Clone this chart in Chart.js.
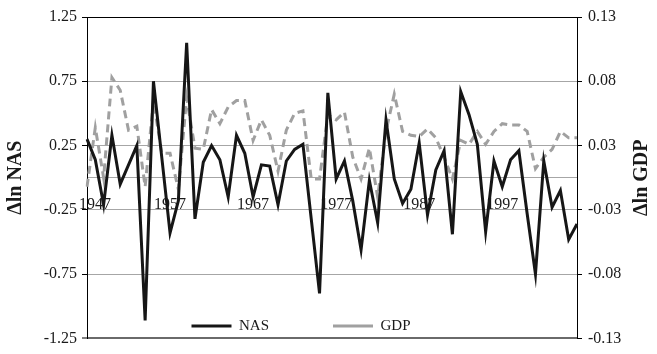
<!DOCTYPE html>
<html>
<head>
<meta charset="utf-8">
<script src="https://cdn.jsdelivr.net/npm/chart.js@4.4.1/dist/chart.umd.min.js"></script>
<style>
  html, body { margin: 0; padding: 0; background: #fff; }
  #wrap { width: 657px; height: 354px; }
</style>
</head>
<body>
<div id="wrap"><canvas id="nasChart"></canvas></div>
<script>
// years 1947 - 2006
const years = Array.from({ length: 60 }, (_, i) => String(1947 + i));
const xTickLabels = ['1947', '1957', '1967', '1977', '1987', '1997'];

const nasValues = [
  0.30, 0.14, -0.21, 0.33, -0.05, 0.10, 0.25, -1.11, 0.75, 0.16,
  -0.43, -0.18, 1.05, -0.32, 0.12, 0.25, 0.14, -0.15, 0.33, 0.19,
  -0.15, 0.10, 0.09, -0.21, 0.13, 0.22, 0.26, -0.32, -0.90, 0.66,
  -0.01, 0.13, -0.18, -0.56, -0.02, -0.35, 0.45, -0.01, -0.20, -0.09,
  0.27, -0.29, 0.06, 0.21, -0.44, 0.67, 0.49, 0.26, -0.42, 0.13,
  -0.07, 0.14, 0.21, -0.28, -0.75, 0.13, -0.23, -0.10, -0.48, -0.36
];

const gdpValues = [
  -0.007, 0.039, 0.000, 0.078, 0.068, 0.037, 0.040, -0.007, 0.060, 0.019,
  0.019, -0.009, 0.062, 0.023, 0.022, 0.053, 0.042, 0.055, 0.060, 0.060,
  0.029, 0.045, 0.033, 0.005, 0.037, 0.050, 0.052, -0.001, -0.001, 0.049,
  0.045, 0.051, 0.016, -0.001, 0.023, -0.015, 0.036, 0.065, 0.036, 0.033,
  0.032, 0.038, 0.031, 0.016, -0.001, 0.029, 0.026, 0.036, 0.026, 0.036,
  0.042, 0.041, 0.041, 0.036, 0.007, 0.016, 0.022, 0.036, 0.031, 0.031
];

const nasTicks = [-1.25, -0.75, -0.25, 0.25, 0.75, 1.25];
const nasTickLabels = ['-1.25', '-0.75', '-0.25', '0.25', '0.75', '1.25'];
const gdpTicks = [-0.125, -0.075, -0.025, 0.025, 0.075, 0.125];
const gdpTickLabels = ['-0.13', '-0.08', '-0.03', '0.03', '0.08', '0.13'];

const nasTitle = '\u0394ln NAS';
const gdpTitle = '\u0394ln GDP';

Chart.defaults.font.family = '"Liberation Serif", "Times New Roman", serif';
Chart.defaults.color = '#1a1a1a';

// keep the legend inside the plot, near its bottom edge
const legendInPlot = {
  id: 'legendInPlot',
  beforeLayout(chart) {
    const lg = chart.legend;
    if (lg && !lg._inPlot) {
      const fit = lg.fit;
      lg.fit = function () {
        fit.call(this);
        this._fullHeight = this.height;
        this.height = 0;
      };
      lg._inPlot = true;
    }
  },
  afterLayout(chart) {
    const lg = chart.legend;
    const a = chart.chartArea;
    const pad = lg.options.labels.padding;
    lg.height = lg._fullHeight;
    lg.top = a.bottom - 20 - pad;
    lg.bottom = lg.top + lg.height;
    lg.left = a.left;
    lg.right = a.right - 62;
    lg.width = lg.right - lg.left;
  }
};

// right axis title reads bottom to top like the left one
const rightTitle = {
  id: 'rightTitle',
  afterDraw(chart) {
    const ctx = chart.ctx;
    const a = chart.chartArea;
    ctx.save();
    ctx.translate(chart.scales.y2.right - 15, (a.top + a.bottom) / 2);
    ctx.rotate(-Math.PI / 2);
    ctx.font = 'bold 20px "Liberation Serif", serif';
    ctx.fillStyle = '#1a1a1a';
    ctx.textAlign = 'center';
    ctx.textBaseline = 'middle';
    ctx.fillText(gdpTitle, 0, 0);
    ctx.restore();
  }
};

const ctx = document.getElementById('nasChart').getContext('2d');
const nasChart = new Chart(ctx, {
  type: 'line',
  data: {
    labels: years,
    datasets: [{
      label: 'NAS',
      data: nasValues,
      yAxisID: 'y',
      borderColor: '#161616',
      pointBorderColor: '#161616',
      borderWidth: 3,
      pointBorderWidth: 3,
      pointRadius: 0,
      tension: 0,
      fill: false
    }, {
      label: 'GDP',
      data: gdpValues,
      yAxisID: 'y2',
      borderColor: '#a0a0a0',
      pointBorderColor: '#a0a0a0',
      borderWidth: 3,
      pointBorderWidth: 3,
      borderDash: [8, 5],
      pointRadius: 0,
      tension: 0,
      fill: false
    }]
  },
  options: {
    responsive: true,
    maintainAspectRatio: false,
    animation: false,
    layout: { padding: { top: 17, bottom: 10, left: 0, right: 0 } },
    scales: {
      x: {
        position: { y: 0 },
        grid: { drawOnChartArea: false, drawTicks: false },
        border: { display: true, color: '#a6a6a6', width: 1 },
        ticks: {
          autoSkip: false,
          maxRotation: 0,
          minRotation: 0,
          padding: 17,
          font: { size: 16 },
          callback: function (value, index) {
            const lab = this.getLabelForValue(value);
            if (!xTickLabels.includes(lab)) return '';
            return index === 0 ? '    ' + lab : lab;
          }
        }
      },
      y: {
        position: 'left',
        min: -1.25,
        max: 1.25,
        afterBuildTicks: (scale) => { scale.ticks = nasTicks.map(v => ({ value: v })); },
        afterFit: (scale) => { scale.width = 87; },
        grid: {
          color: (c) => c.tick && c.tick.value === 1.25 ? '#000' : (c.tick && c.tick.value === -1.25 ? '#6a6a6a' : '#a6a6a6'),
          lineWidth: (c) => c.tick && c.tick.value === -1.25 ? 2 : 1,
          tickColor: '#000',
          tickLength: 5,
          tickWidth: 1
        },
        border: { display: true, color: '#000', width: 1 },
        ticks: {
          padding: 5,
          font: { size: 16 },
          callback: (value) => nasTickLabels[nasTicks.indexOf(value)]
        },
        title: {
          display: true,
          text: nasTitle,
          font: { size: 20, weight: 'bold' },
          padding: { top: 4, bottom: 0 }
        }
      },
      y2: {
        position: 'right',
        min: -0.125,
        max: 0.125,
        afterBuildTicks: (scale) => { scale.ticks = gdpTicks.map(v => ({ value: v })); },
        afterFit: (scale) => { scale.width = 80; },
        grid: { drawOnChartArea: false, tickColor: '#000', tickLength: 5, tickWidth: 1 },
        border: { display: true, color: '#000', width: 1 },
        ticks: {
          padding: 6,
          font: { size: 16 },
          callback: (value) => gdpTickLabels[gdpTicks.findIndex(t => Math.abs(t - value) < 1e-9)]
        }
      }
    },
    plugins: {
      legend: {
        position: 'bottom',
        labels: {
          usePointStyle: true,
          pointStyle: 'line',
          pointStyleWidth: 40,
          padding: 64,
          color: '#1a1a1a',
          font: { size: 15 }
        }
      },
      tooltip: { enabled: false }
    }
  },
  plugins: [legendInPlot, rightTitle]
});
</script>
</body>
</html>
